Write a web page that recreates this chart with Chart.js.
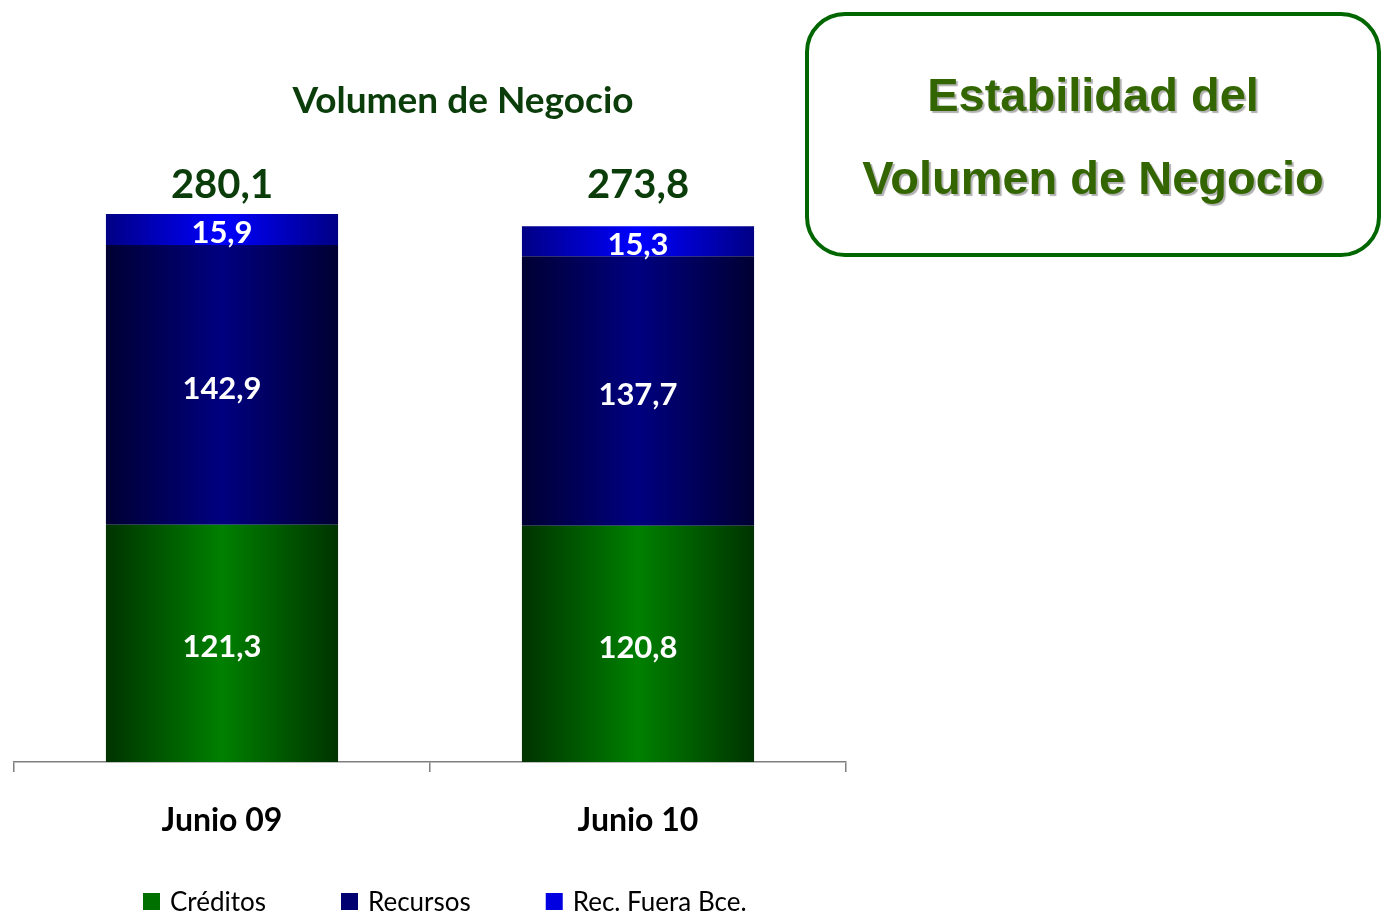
<!DOCTYPE html>
<html>
<head>
<meta charset="utf-8">
<script src="https://cdn.jsdelivr.net/npm/chart.js@4"></script>
<style>
  html, body { margin: 0; padding: 0; background: #fff; }
  body { width: 1383px; height: 921px; position: relative; overflow: hidden; }
  #chart { position: absolute; left: 0; top: 0; }
  .box {
    position: absolute; left: 805px; top: 12px; width: 568px; height: 237px;
    border: 4px solid #006600; border-radius: 40px; box-sizing: content-box;
    font-family: "Liberation Sans", Arial, sans-serif; font-weight: bold;
    font-size: 47px; color: #336600; text-align: center;
    text-shadow: 2px 2px 1px #b0b0b0;
  }
  .box .l1 { position: absolute; left: 0; right: 0; top: 51px; }
  .box .l2 { position: absolute; left: 0; right: 0; top: 134px; }
</style>
</head>
<body>
<canvas id="chart" width="1383" height="921"></canvas>
<div class="box"><div class="l1">Estabilidad del</div><div class="l2">Volumen de Negocio</div></div>
<script>
// values
const categories = ['Junio 09', 'Junio 10'];
const creditos = [121.3, 120.8];
const recursos = [142.9, 137.7];
const fueraBce = [15.9, 15.3];
const totals = [280.1, 273.8];

const FONT = 'Lato, "Open Sans", sans-serif';
const fmt = (v) => v.toFixed(1).replace('.', ',');

// horizontal gradient per bar: dark edges, bright middle
const BAR_PCT = 0.558;
const gradFill = (edge, mid) => (ctx) => {
    const chart = ctx.chart;
    const xs = chart.scales.x;
    if (!chart.chartArea || !xs) return mid;
    const cx = xs.getPixelForValue(ctx.dataIndex);
    const w = (xs.width / categories.length) * BAR_PCT;
    const g = chart.ctx.createLinearGradient(cx - w / 2, 0, cx + w / 2, 0);
    g.addColorStop(0, edge);
    g.addColorStop(0.5, mid);
    g.addColorStop(1, edge);
    return g;
};

const labelsPlugin = {
    id: 'barLabels',
    afterDatasetsDraw(chart) {
        const ctx = chart.ctx;
        const ca = chart.chartArea;
        ctx.save();
        ctx.textAlign = 'center';
        ctx.textBaseline = 'middle';
        ctx.fillStyle = '#ffffff';
        ctx.font = 'bold 31px ' + FONT;
        chart.data.datasets.forEach((ds, di) => {
            const meta = chart.getDatasetMeta(di);
            meta.data.forEach((el, i) => {
                ctx.fillText(fmt(ds.data[i]), el.x, (el.y + el.base) / 2 + 4);
            });
        });
        // totals above the stacks
        const ys = chart.scales.y;
        const topY = ys.getPixelForValue(Math.max(...totals)) - 29;
        ctx.fillStyle = '#0b3d0b';
        ctx.font = 'bold 40px ' + FONT;
        chart.getDatasetMeta(0).data.forEach((el, i) => ctx.fillText(fmt(totals[i]), el.x, topY));
        // chart title
        ctx.font = 'bold 37px ' + FONT;
        ctx.fillText('Volumen de Negocio', (ca.left + ca.right) / 2 + 33, 101);

        // legend
        ctx.font = '26px ' + FONT;
        ctx.textAlign = 'left';
        let x = ca.left + 129;
        const y = 902;
        chart.data.datasets.forEach((ds) => {
            ctx.fillStyle = ds.legendColor;
            ctx.fillRect(x, y - 9, 17, 17);
            ctx.fillStyle = '#000';
            ctx.fillText(ds.label, x + 27, y + 1);
            x += 27 + ctx.measureText(ds.label).width + 75;
        });
        ctx.restore();
    }
};

new Chart(document.getElementById('chart'), {
    type: 'bar',
    data: {
        labels: categories,
        datasets: [
            { label: 'Créditos', data: creditos, backgroundColor: gradFill('#003300', '#008000'), legendColor: '#007000' },
            { label: 'Recursos', data: recursos, backgroundColor: gradFill('#000033', '#000080'), legendColor: '#000070' },
            { label: 'Rec. Fuera Bce.', data: fueraBce, backgroundColor: gradFill('#000085', '#0000ff'), legendColor: '#0000e0' },
        ]
    },
    options: {
        responsive: false,
        devicePixelRatio: 1,
        animation: false,
        layout: { padding: { left: 14, right: 537, top: 175, bottom: 79 } },
        datasets: { bar: { barPercentage: BAR_PCT, categoryPercentage: 1, borderWidth: 0 } },
        plugins: {
            title: { display: false },
            tooltip: { enabled: false },
            legend: { display: false }
        },
        scales: {
            x: {
                stacked: true,
                afterFit: (scale) => { scale.height = 80; },
                grid: { offset: true, drawOnChartArea: false, drawTicks: true, tickLength: 10, color: '#808080', lineWidth: 1.5 },
                border: { display: true, color: '#808080', width: 1.5 },
                ticks: { color: '#000', font: { family: FONT, size: 32, weight: 'bold' }, padding: 29 }
            },
            y: { stacked: true, display: false, min: 0, max: 300 }
        }
    },
    plugins: [labelsPlugin]
});
</script>
</body>
</html>
